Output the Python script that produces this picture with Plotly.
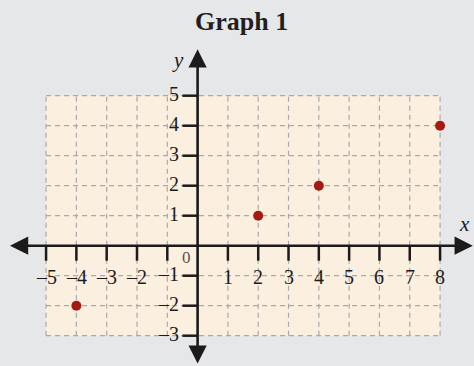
import plotly.graph_objects as go

# ---- data ----
title_text = "Graph 1"
point_x = [-4, 2, 4, 8]
point_y = [-2, 1, 2, 4]
x_ticks = [-5, -4, -3, -2, -1, 1, 2, 3, 4, 5, 6, 7, 8]
# the x "–1" label coincides with the y "–1" label in the reference, so it is drawn once
x_tick_labels = ["–5", "–4", "–3", "–2", "", "1", "2", "3", "4", "5", "6", "7", "8"]
y_ticks = [-3, -2, -1, 1, 2, 3, 4, 5]
y_tick_labels = ["–3", "–2", "–1", "1", "2", "3", "4", "5"]
grid_x = list(range(-5, 9))
grid_y = list(range(-3, 6))
x_label = "x"
y_label = "y"
origin_label = "0"

# ---- styles ----
BG = "#e6e7e9"
PANEL = "#fbf0e0"
GRID = "#a9a9a9"
AXIS = "#1c1a1a"
DOT = "#a51b12"
FONT = "Liberation Serif, DejaVu Serif, serif"

xmin_r, xmax_r = -6.52, 9.12
ymin_r, ymax_r = -4.01, 8.19

fig = go.Figure()

shapes = []
shapes.append(dict(type="rect", xref="x", yref="y", x0=grid_x[0], x1=grid_x[-1],
                   y0=grid_y[0], y1=grid_y[-1], fillcolor=PANEL, line=dict(width=0), layer="below"))
for gx in grid_x:
    shapes.append(dict(type="line", xref="x", yref="y", x0=gx, x1=gx, y0=grid_y[0], y1=grid_y[-1],
                       line=dict(color=GRID, width=1.2, dash="5px,4px"), layer="below"))
for gy in grid_y:
    shapes.append(dict(type="line", xref="x", yref="y", x0=grid_x[0], x1=grid_x[-1], y0=gy, y1=gy,
                       line=dict(color=GRID, width=1.2, dash="5px,4px"), layer="below"))
for tx in x_ticks:
    shapes.append(dict(type="line", xref="x", yref="y", x0=tx, x1=tx, y0=0, y1=-0.5,
                       line=dict(color=AXIS, width=2.5)))
for ty in y_ticks:
    shapes.append(dict(type="line", xref="x", yref="y", x0=0, x1=-0.5, y0=ty, y1=ty,
                       line=dict(color=AXIS, width=2.5)))

annotations = []
annotations.append(dict(x=9.08, y=0, ax=-6.24, ay=0, xref="x", yref="y", axref="x", ayref="y",
                        text="", showarrow=True, arrowhead=2, arrowside="end+start",
                        arrowsize=1.4, arrowwidth=2.6, arrowcolor=AXIS))
annotations.append(dict(x=0, y=6.55, ax=0, ay=-3.98, xref="x", yref="y", axref="x", ayref="y",
                        text="", showarrow=True, arrowhead=2, arrowside="end+start",
                        arrowsize=1.4, arrowwidth=2.6, arrowcolor=AXIS))
for tx, tl in zip(x_ticks, x_tick_labels):
    if tl:
        annotations.append(dict(x=tx, y=-1.04, xref="x", yref="y", text=tl, showarrow=False,
                                font=dict(family=FONT, size=20, color=AXIS), xanchor="center", yanchor="middle"))
for ty, tl in zip(y_ticks, y_tick_labels):
    annotations.append(dict(x=-0.55, y=ty + 0.05, xref="x", yref="y", text=tl, showarrow=False,
                            font=dict(family=FONT, size=20, color=AXIS), xanchor="right", yanchor="middle"))
annotations.append(dict(x=-0.36, y=-0.38, xref="x", yref="y", text=origin_label, showarrow=False,
                        font=dict(family=FONT, size=17, color="#555"), xanchor="center", yanchor="middle"))
annotations.append(dict(x=8.81, y=0.72, xref="x", yref="y", text="<i>" + x_label + "</i>", showarrow=False,
                        font=dict(family=FONT, size=21, color=AXIS), xanchor="center", yanchor="middle"))
annotations.append(dict(x=-0.65, y=6.2, xref="x", yref="y", text="<i>" + y_label + "</i>", showarrow=False,
                        font=dict(family=FONT, size=21, color=AXIS), xanchor="center", yanchor="middle"))
annotations.append(dict(x=0.51, y=1 - 22 / 366, xref="paper", yref="paper", text="<b>" + title_text + "</b>",
                        showarrow=False, font=dict(family=FONT, size=26, color="#231f20"),
                        xanchor="center", yanchor="middle"))

fig.add_trace(go.Scatter(x=point_x, y=point_y, mode="markers",
                         marker=dict(color=DOT, size=10, line=dict(width=0)),
                         hoverinfo="skip", showlegend=False))

fig.update_layout(
    width=474, height=366,
    margin=dict(l=0, r=0, t=0, b=0),
    paper_bgcolor=BG, plot_bgcolor=BG,
    xaxis=dict(range=[xmin_r, xmax_r], visible=False, fixedrange=True),
    yaxis=dict(range=[ymin_r, ymax_r], visible=False, fixedrange=True),
    shapes=shapes, annotations=annotations,
    showlegend=False,
)

fig.write_html("out.html", config={"displayModeBar": False},
               post_script="document.body.style.margin='0';document.body.style.overflow='hidden';")
